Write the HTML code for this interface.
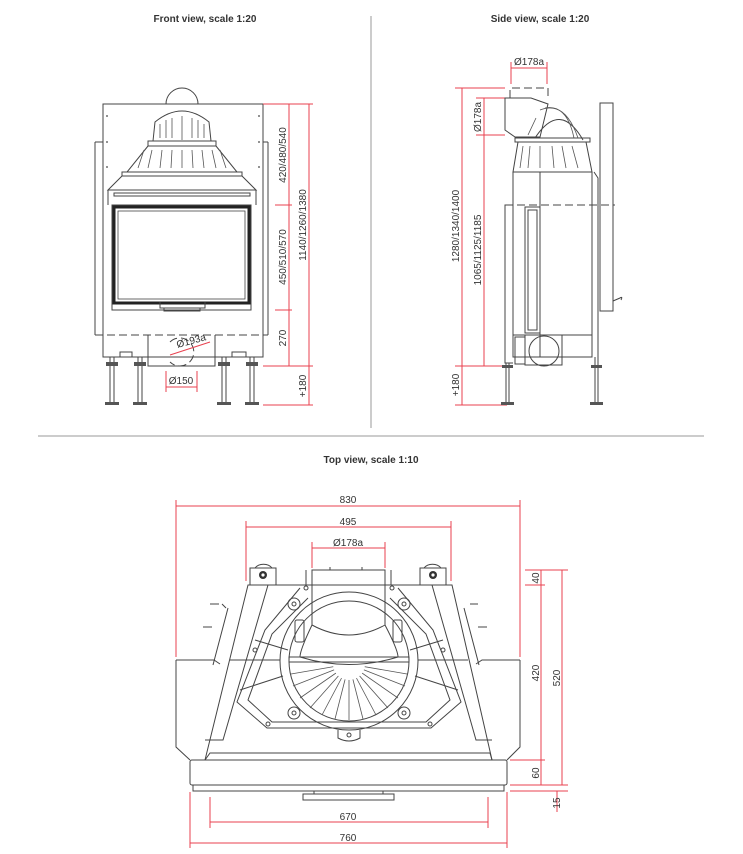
<!DOCTYPE html>
<html><head><meta charset="utf-8"><style>
html,body{margin:0;padding:0;background:#fff;}
svg{display:block;}
text{font-family:"Liberation Sans",sans-serif;}
.t{font-weight:bold;font-size:10px;fill:#333;}
.d{font-size:10px;fill:#333;}
.k{fill:none;stroke:#444;stroke-width:1;}
.kt{fill:none;stroke:#555;stroke-width:0.8;}
.r{fill:none;stroke:#e8414f;stroke-width:1;}
.dash{stroke-dasharray:8 4;}
</style></head><body>
<svg width="743" height="854" viewBox="0 0 743 854" xmlns="http://www.w3.org/2000/svg">
<line x1="371" y1="16" x2="371" y2="428" stroke="#999" stroke-width="1"/>
<line x1="38" y1="436" x2="704" y2="436" stroke="#999" stroke-width="1"/>
<text class="t" x="205" y="22" text-anchor="middle">Front view, scale 1:20</text>
<text class="t" x="540" y="22" text-anchor="middle">Side view, scale 1:20</text>
<text class="t" x="371" y="463" text-anchor="middle">Top view, scale 1:10</text>

<!-- FRONT VIEW -->
<g>
<path class="k" d="M103,104 H263 V357 H103 Z"/>
<path class="k" d="M95,142 H103 M95,142 V335 M268,142 H263 M268,142 V335"/>
<line class="k dash" x1="95" y1="335" x2="268" y2="335"/>
<path class="k" d="M166,104 A16,16 0 0 1 198,104"/>
<path class="k" d="M153,141 L155,122 Q182,100 209,122 L211,141 Z"/>
<path class="k" d="M148,141 H216 V146 H148 Z"/>
<path class="k" d="M148,146 L127,172 H237 L216,146"/>
<path class="k" d="M122,172 H242 V176 H122 Z"/>
<path class="k" d="M122,176 L108,190 H256 L242,176"/>
<path class="k" d="M108,190 V205 M256,190 V205"/>
<rect class="k" x="114" y="193" width="136" height="3"/>
<g class="kt">
<path d="M160,124 V138 M166,120 V138 M172,118 V138 M182,116 V140 M192,118 V138 M198,120 V138 M204,124 V138"/>
<path d="M144,150 L138,168 M152,150 L148,168 M162,150 L160,168 M172,150 L171,168 M182,150 V168 M192,150 L193,168 M202,150 L204,168 M212,150 L216,168 M220,150 L226,168"/>
</g>
<circle cx="107" cy="116" r="0.9" fill="#444"/><circle cx="107" cy="142" r="0.9" fill="#444"/><circle cx="107" cy="167" r="0.9" fill="#444"/>
<circle cx="259" cy="116" r="0.9" fill="#444"/><circle cx="259" cy="142" r="0.9" fill="#444"/><circle cx="259" cy="167" r="0.9" fill="#444"/>
<rect x="112" y="205" width="139" height="105" fill="none" stroke="#444"/>
<rect x="114" y="207" width="135" height="96" fill="none" stroke="#222" stroke-width="3"/>
<rect x="118" y="211" width="127" height="88" fill="#fff" stroke="#444" stroke-width="0.8"/>
<path class="k" d="M160,302 V308 H205 V302 M164,308 V311 H200 V308"/>
<path class="k" d="M103,357 H120 V352 H132 V357 M232,357 V352 H246 V357 H263"/>
<path class="k" d="M148,335 V366 H215 V335"/>
<path class="k dash" d="M170,342 A14,14 0 1 1 170,362"/>
<line class="r" x1="170" y1="355" x2="210" y2="342"/>
<text class="d" x="192" y="344" text-anchor="middle" transform="rotate(-15 192 344)">Ø193a</text>
<g class="k">
<path d="M110,357 V405 M114,357 V405 M138,357 V405 M142,357 V405 M222,357 V405 M226,357 V405 M250,357 V405 M254,357 V405"/>
</g>
<g fill="#555">
<rect x="106" y="362" width="12" height="4"/><rect x="134" y="362" width="12" height="4"/><rect x="218" y="362" width="12" height="4"/><rect x="246" y="362" width="12" height="4"/>
<rect x="105" y="402" width="14" height="3"/><rect x="133" y="402" width="14" height="3"/><rect x="217" y="402" width="14" height="3"/><rect x="245" y="402" width="14" height="3"/>
</g>
<g class="r">
<path d="M263,104 H313 M275,205 H292 M275,310 H292 M263,366 H313 M263,405 H313"/>
<path d="M289,104 V366 M309,104 V405"/>
<path d="M166,371 V392 M197,371 V392 M166,387 H197"/>
</g>
<text class="d" x="181" y="384" text-anchor="middle">Ø150</text>
<text class="d" transform="translate(286,155) rotate(-90)" text-anchor="middle">420/480/540</text>
<text class="d" transform="translate(286,257) rotate(-90)" text-anchor="middle">450/510/570</text>
<text class="d" transform="translate(286,338) rotate(-90)" text-anchor="middle">270</text>
<text class="d" transform="translate(306,225) rotate(-90)" text-anchor="middle">1140/1260/1380</text>
<text class="d" transform="translate(306,386) rotate(-90)" text-anchor="middle">+180</text>
</g>

<!-- SIDE VIEW -->
<g>
<g class="r">
<path d="M511,62 V84 M547,62 V84 M511,68 H547"/>
<path d="M455,88 H505 M476,98 H505 M476,135 H505 M455,366 H507 M455,405 H507"/>
<path d="M462,88 V405 M484,98 V366"/>
</g>
<text class="d" x="529" y="65" text-anchor="middle">Ø178a</text>
<text class="d" transform="translate(481,117) rotate(-90)" text-anchor="middle">Ø178a</text>
<text class="d" transform="translate(459,226) rotate(-90)" text-anchor="middle">1280/1340/1400</text>
<text class="d" transform="translate(481,250) rotate(-90)" text-anchor="middle">1065/1125/1185</text>
<text class="d" transform="translate(459,385) rotate(-90)" text-anchor="middle">+180</text>
<path class="k dash" d="M510,98 V88 H548 V98"/>
<path class="k" d="M505,98 H531 L548,104 L540,137 H515 L505,130 Z"/>
<path class="k" d="M535,138 Q560,100 583,140"/>
<path class="kt" d="M540,110 Q565,100 578,138 M545,108 Q567,104 574,138 M536,118 L528,135"/>
<path class="k" d="M515,138 H590 V142 H515 Z"/>
<path class="k" d="M518,142 L513,172 H592 L586,142"/>
<path class="kt" d="M523,146 L520,168 M530,146 L528,168 M540,146 V168 M552,146 L554,168 M562,146 L566,168 M572,146 L578,168"/>
<path class="k" d="M513,172 V357 H592 V172"/>
<path class="k" d="M540,172 V357 M594,172 L598,178 V357"/>
<path class="k" d="M600,103 H613 V311 H600 Z"/>
<path class="k" d="M613,301 L620,298 Q623,296 621,300"/>
<line class="k dash" x1="505" y1="205" x2="615" y2="205"/>
<path class="k" d="M513,205 H505 V363 H513"/>
<rect class="k" x="525" y="207" width="15" height="126"/>
<rect class="k" x="528" y="210" width="9" height="120"/>
<path class="k" d="M513,335 H592 V357"/>
<rect class="k" x="515" y="337" width="10" height="27"/>
<rect class="k" x="525" y="335" width="37" height="30"/>
<circle class="k" cx="544" cy="351" r="15"/>
<path class="k" d="M506,363 V405 M509,363 V405 M595,357 V405 M598,357 V405"/>
<g fill="#555"><rect x="502" y="365" width="11" height="3"/><rect x="501" y="402" width="13" height="3"/><rect x="591" y="365" width="11" height="3"/><rect x="590" y="402" width="13" height="3"/></g>
</g>

<!-- TOP VIEW -->
<g>
<g class="r">
<path d="M176,500 V657 M520,500 V657 M176,506 H520"/>
<path d="M246,521 V581 M451,521 V581 M246,527 H451"/>
<path d="M312,542 V568 M385,542 V568 M312,548 H385"/>
<path d="M525,570 H568 M525,585 H545 M510,760 H545 M510,785 H568 M510,791 H568"/>
<path d="M541,570 V785 M562,570 V785 M557,791 V812"/>
<path d="M210,797 V828 M488,797 V828 M210,822 H488"/>
<path d="M190,792 V848 M507,792 V848 M190,843 H507"/>
</g>
<text class="d" x="348" y="503" text-anchor="middle">830</text>
<text class="d" x="348" y="525" text-anchor="middle">495</text>
<text class="d" x="348" y="546" text-anchor="middle">Ø178a</text>
<text class="d" x="348" y="820" text-anchor="middle">670</text>
<text class="d" x="348" y="841" text-anchor="middle">760</text>
<text class="d" transform="translate(539,578) rotate(-90)" text-anchor="middle">40</text>
<text class="d" transform="translate(539,673) rotate(-90)" text-anchor="middle">420</text>
<text class="d" transform="translate(560,678) rotate(-90)" text-anchor="middle">520</text>
<text class="d" transform="translate(539,773) rotate(-90)" text-anchor="middle">60</text>
<text class="d" transform="translate(560,803) rotate(-90)" text-anchor="middle">15</text>

<path class="k" d="M176,660 H214 L220,664 M176,660 V747 L190,760"/>
<path class="k" d="M520,660 H482 L476,664 M520,660 V747 L507,760"/>
<path class="k" d="M213,665 L228,608 M479,665 L464,608"/>
<path class="k" d="M210,604 H219 M222,604 L226,608 M203,627 H212 M470,604 H478 M487,627 H478"/>
<path class="k" d="M248,585 H452 L492,760 H205 Z"/>
<path class="k" d="M268,585 L223,740 H205 M432,585 L476,740 H492"/>
<path class="k" d="M205,760 L210,753 H490 L492,760"/>
<rect class="k" x="190" y="760" width="317" height="25" rx="2"/>
<rect class="k" x="193" y="785" width="311" height="6"/>
<rect class="k" x="303" y="794" width="91" height="6"/>
<path class="k" d="M314,791 V794 M383,791 V794"/>
<g class="k">
<rect x="250" y="568" width="26" height="17"/><rect x="420" y="568" width="26" height="17"/>
<path d="M255,568 A10,8 0 0 1 272,568 M424,568 A10,8 0 0 1 441,568"/>
</g>
<circle cx="263" cy="575" r="4" fill="#333"/><circle cx="263" cy="575" r="1.6" fill="#fff"/>
<circle cx="433" cy="575" r="4" fill="#333"/><circle cx="433" cy="575" r="1.6" fill="#fff"/>
<path class="k" d="M306,570 V585 M391,570 V585"/>
<path class="k" d="M300,588 L265,630 L237,702 L267,728 L431,728 L461,702 L433,630 L398,588"/>
<path class="k" d="M308,598 L272,634 L248,700 L272,722 L426,722 L450,700 L426,634 L390,598"/>
<circle class="k" cx="349" cy="661" r="69" fill="#fff"/>
<circle class="k" cx="349" cy="661" r="60"/>
<path class="k" d="M230,660 H280 M418,660 H468 M240,690 L283,676 M458,690 L415,676 M255,640 L288,650 M443,640 L410,650"/>
<g class="kt">
<path d="M349,664 V720 M349,664 L335,719 M349,664 L322,715 M349,664 L310,708 M349,664 L300,698 M349,664 L293,686 M349,664 L291,674 M349,664 L363,719 M349,664 L376,715 M349,664 L388,708 M349,664 L398,698 M349,664 L405,686 M349,664 L407,674"/>
</g>
<circle cx="349" cy="664" r="16" fill="#fff"/>
<path class="k" d="M289,657 H409 V662 H289 Z" fill="#fff"/>
<path class="k" d="M312,625 Q300,650 300,657 Q349,672 398,657 Q398,650 385,625" fill="#fff"/>
<path class="k" d="M312,570 H385 V625 Q349,645 312,625 Z" fill="#fff"/>
<path class="k" d="M330,570 V567 M362,570 V567"/>
<rect class="k" x="295" y="620" width="9" height="22" rx="2" fill="#fff"/><rect class="k" x="393" y="620" width="9" height="22" rx="2" fill="#fff"/>
<path class="k" d="M338,730 V738 Q349,744 360,738 V730"/>
<circle class="k" cx="349" cy="735" r="2"/>
<g class="k">
<circle cx="294" cy="604" r="6"/><circle cx="404" cy="604" r="6"/><circle cx="294" cy="713" r="6"/><circle cx="404" cy="713" r="6"/>
<circle cx="294" cy="604" r="2"/><circle cx="404" cy="604" r="2"/><circle cx="294" cy="713" r="2"/><circle cx="404" cy="713" r="2"/>
<circle cx="255" cy="650" r="2"/><circle cx="443" cy="650" r="2"/><circle cx="268" cy="724" r="2"/><circle cx="430" cy="724" r="2"/><circle cx="306" cy="588" r="2"/><circle cx="392" cy="588" r="2"/>
</g>
</g>
</svg>
</body></html>
